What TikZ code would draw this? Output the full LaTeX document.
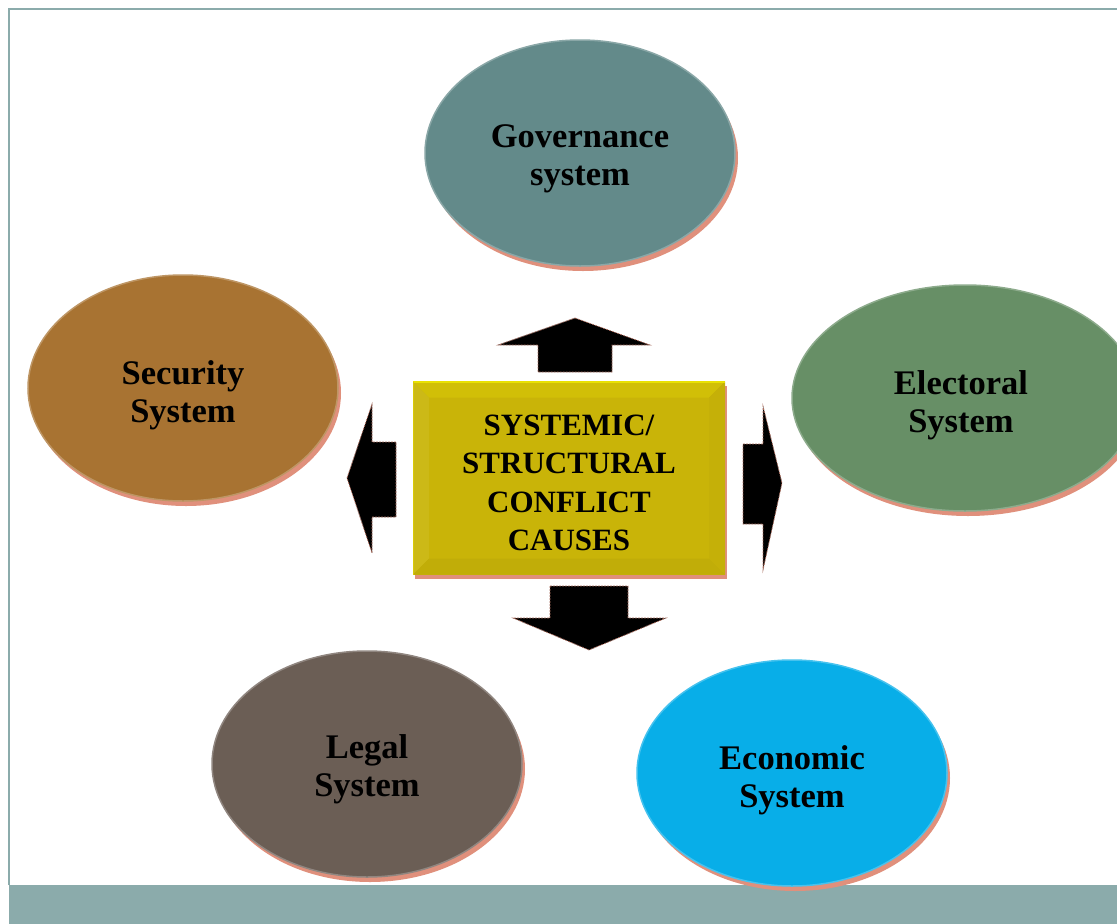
\documentclass[tikz,border=0pt]{standalone}
\usepackage{fontspec}
\setmainfont{Liberation Serif}
\usetikzlibrary{shapes.geometric,shadows}

\definecolor{framec}{HTML}{8BABAB}
\definecolor{shadowc}{HTML}{E0907C}
\definecolor{govc}{HTML}{638A8A}
\definecolor{secc}{HTML}{A87332}
\definecolor{elec}{HTML}{678F66}
\definecolor{legc}{HTML}{6B5E55}
\definecolor{ecoc}{HTML}{08AEE8}
\definecolor{corec}{HTML}{C9B408}

\tikzset{
  labelfont/.style={font=\fontsize{34.5}{38}\selectfont\bfseries, align=center, text=black, inner sep=0pt},
  corefont/.style={font=\fontsize{31}{38.3}\selectfont\bfseries, align=center, text=black, inner sep=0pt},
  sysnode/.style={ellipse, inner sep=0pt,
    minimum width=310pt, minimum height=226pt,
    fill=#1, draw=#1!75!white, line width=1.5pt,
    drop shadow={shadow xshift=3pt, shadow yshift=-5pt, fill=shadowc, opacity=1}},
  corebox/.style={rectangle, inner sep=0pt,
    minimum width=312pt, minimum height=193pt, fill=corec,
    drop shadow={shadow xshift=2pt, shadow yshift=-4pt, fill=shadowc, opacity=1},
    path picture={
      \fill[corec!85!yellow]
        (path picture bounding box.north west) -- (path picture bounding box.north east)
        -- ([xshift=-16pt,yshift=-16pt]path picture bounding box.north east)
        -- ([xshift=16pt,yshift=-16pt]path picture bounding box.north west) -- cycle;
      \fill[corec!94!white]
        (path picture bounding box.north west) -- ([xshift=16pt,yshift=-16pt]path picture bounding box.north west)
        -- ([xshift=16pt,yshift=16pt]path picture bounding box.south west)
        -- (path picture bounding box.south west) -- cycle;
      \fill[corec!96!black]
        (path picture bounding box.south west) -- (path picture bounding box.south east)
        -- ([xshift=-16pt,yshift=16pt]path picture bounding box.south east)
        -- ([xshift=16pt,yshift=16pt]path picture bounding box.south west) -- cycle;
      \fill[corec!98!black]
        (path picture bounding box.north east) -- ([xshift=-16pt,yshift=-16pt]path picture bounding box.north east)
        -- ([xshift=-16pt,yshift=16pt]path picture bounding box.south east)
        -- (path picture bounding box.south east) -- cycle;
      \draw[corec!40!yellow, line width=2pt]
        (path picture bounding box.north west) -- (path picture bounding box.north east);
      \draw[corec!70!yellow, line width=1.5pt]
        (path picture bounding box.north west) -- (path picture bounding box.south west);
    }},
  blockarrow/.style={fill=black, draw=shadowc!75!black, line width=0.7pt,
    dash pattern=on 2pt off 1pt}
}

\begin{document}
\begin{tikzpicture}[x=1pt, y=-1pt]
  \useasboundingbox (0,0) rectangle (1117,924);
  \clip (0,0) rectangle (1117,924);

  % slide frame and footer band
  \fill[white] (0,0) rectangle (1117,924);
  \fill[framec] (9,885) rectangle (1117,924);
  \draw[framec, line width=2pt] (9,885) -- (9,9) -- (1117,9);

  % centre box
  \node[corebox] (core) at (569,478) {};
  \node[corefont] (coretext) at (569,483) {SYSTEMIC/\\STRUCTURAL\\CONFLICT\\CAUSES};

  % surrounding systems
  \node[sysnode=govc] (gov) at (580,153) {};
  \node[labelfont] (govtext) at (580,159) {Governance\\system};
  \node[sysnode=secc] (sec) at (183,388) {};
  \node[labelfont] (sectext) at (183,395) {Security\\System};
  \node[sysnode=elec, minimum width=346pt] (ele) at (965,398) {};
  \node[labelfont] (eletext) at (961,405) {Electoral\\System};
  \node[sysnode=legc] (leg) at (367,764) {};
  \node[labelfont] (legtext) at (367,769) {Legal\\System};
  \node[sysnode=ecoc] (eco) at (792,773) {};
  \node[labelfont] (ecotext) at (792,780) {Economic\\System};

  % block arrows around the centre box
  \draw[blockarrow] (575,318) -- (650,345) -- (612,345) -- (612,372)
    -- (538,372) -- (538,345) -- (498,345) -- cycle;
  \draw[blockarrow] (550,586) -- (628,586) -- (628,618) -- (666,618)
    -- (589,650) -- (513,618) -- (550,618) -- cycle;
  \draw[blockarrow] (347,478) -- (372,404) -- (372,442) -- (396,442)
    -- (396,517) -- (372,517) -- (372,553) -- cycle;
  \draw[blockarrow] (743,444) -- (763,444) -- (763,406) -- (782,483)
    -- (763,570) -- (763,524) -- (743,524) -- cycle;
\end{tikzpicture}
\end{document}
